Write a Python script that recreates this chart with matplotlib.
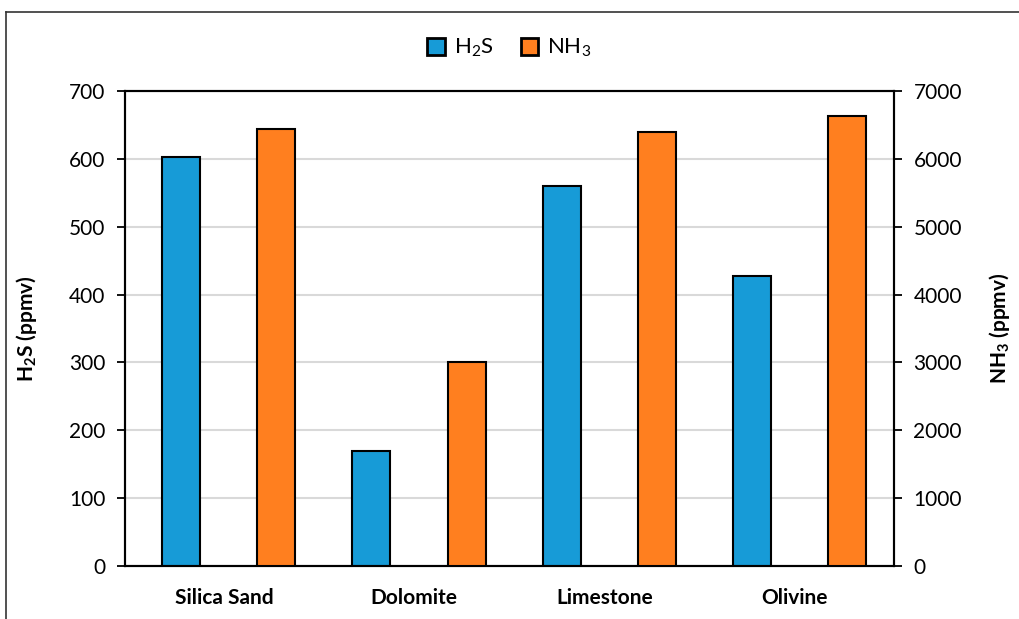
import matplotlib
matplotlib.use("Agg")
import matplotlib.pyplot as plt
import numpy as np
from matplotlib.lines import Line2D

categories = ["Silica Sand", "Dolomite", "Limestone", "Olivine"]
h2s = [603, 170, 560, 427]
nh3 = [6445, 3005, 6395, 6630]
h2s_ticks = [0, 100, 200, 300, 400, 500, 600, 700]
nh3_ticks = [0, 1000, 2000, 3000, 4000, 5000, 6000, 7000]

plt.rcParams['font.family'] = ['Lato', 'DejaVu Sans']
plt.rcParams['mathtext.default'] = 'regular'

blue = '#179BD7'
orange = '#FF7F1F'

fig = plt.figure(figsize=(10.19, 6.19), dpi=100)
ax = fig.add_axes([0.1227, 0.0856, 0.7546, 0.7674])
ax2 = ax.twinx()

x = np.arange(len(categories))
d = 0.25
w = 0.2
ax.bar(x - d, h2s, width=w, color=blue, edgecolor='black', linewidth=1.5, zorder=3, label='H$_2$S')
ax2.bar(x + d, nh3, width=w, color=orange, edgecolor='black', linewidth=1.5, zorder=3, label='NH$_3$')

ax.set_xlim(-0.545, 3.496)
ax.set_ylim(0, 700)
ax2.set_ylim(0, 7000)
ax.set_yticks(h2s_ticks)
ax2.set_yticks(nh3_ticks)
ax.set_xticks(x - 0.025)
ax.set_xticklabels(categories, fontsize=15, fontweight='bold')
ax.tick_params(axis='x', length=0, pad=16)
ax.tick_params(axis='y', labelsize=15, length=6, width=1.3, direction='out', pad=8)
ax2.tick_params(axis='y', labelsize=15, length=6, width=1.3, direction='out', pad=8)

ax.yaxis.grid(True, color='#d9d9d9', linewidth=1.5, zorder=0)
ax.set_axisbelow(True)
for a in (ax, ax2):
    for s in a.spines.values():
        s.set_linewidth(1.5)
        s.set_color('black')

ax.set_ylabel('H$_2$S (ppmv)', fontsize=15, fontweight='bold', labelpad=22)
ax2.set_ylabel('NH$_3$ (ppmv)', fontsize=15, fontweight='bold', labelpad=18)

h1, l1 = ax.get_legend_handles_labels()
h2, l2 = ax2.get_legend_handles_labels()
leg = fig.legend(h1 + h2, l1 + l2, loc='center', bbox_to_anchor=(0.5, 0.922), ncol=2,
                 frameon=False, fontsize=16, handlelength=0.8, handleheight=0.8,
                 handletextpad=0.4, columnspacing=1.2)
for p in leg.get_patches():
    p.set_linewidth(2)

# outer frame (partially visible)
fig.add_artist(Line2D([6/1019, 6/1019], [0, 1 - 12/619], transform=fig.transFigure, color='#333333', linewidth=1.2))
fig.add_artist(Line2D([6/1019, 1], [1 - 12/619, 1 - 12/619], transform=fig.transFigure, color='#333333', linewidth=1.2))

fig.savefig('out.png', dpi=100)
